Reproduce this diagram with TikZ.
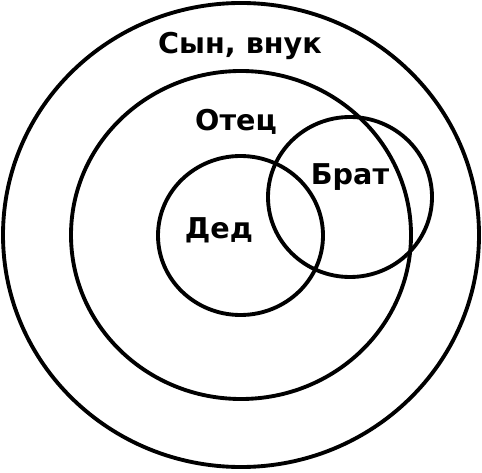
\documentclass[tikz,border=0pt]{standalone}
\usepackage{fontspec}
\setmainfont{DejaVu Sans}
\usepackage{tikz}
\usetikzlibrary{positioning}
\tikzset{
  % curve
	cstcurve/.style       ={line width=2.2pt}, %圆
  % node
	cstlabel/.style       ={inner sep=0pt,font=\fontsize{16.3}{18}\selectfont\bfseries}
}

\begin{document}
\begin{tikzpicture}[x=0.02cm,y=-0.02cm]
			\useasboundingbox (0,0) rectangle (482,472);
			\draw[cstcurve] (241,235) ellipse [x radius=238,y radius=232];
			\draw[cstcurve] (241,235) ellipse [x radius=170,y radius=164];
			\draw[cstcurve] (240.5,235.5) ellipse [x radius=82.5,y radius=79.5];
			\draw[cstcurve] (350,197) ellipse [x radius=82,y radius=80];
			\node[cstlabel] (son) at (240,46) {Сын, внук};
			\node[cstlabel] (father) at (236,122) {Отец};
			\node[cstlabel] (brother) at (350,177) {Брат};
			\node[cstlabel] (grand) at (219,230) {Дед};
		\end{tikzpicture}
\end{document}
